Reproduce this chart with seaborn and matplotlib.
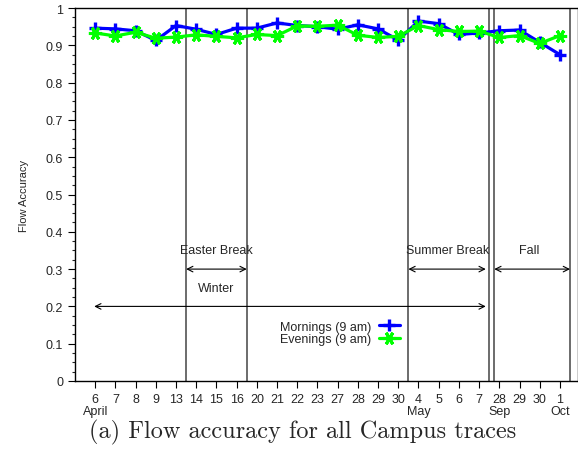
import numpy as np
import pandas as pd
import seaborn as sns
import matplotlib
matplotlib.use("Agg")
import matplotlib.pyplot as plt
from matplotlib.ticker import MultipleLocator, AutoMinorLocator, FixedLocator, FuncFormatter
from matplotlib.lines import Line2D

days = ["6", "7", "8", "9", "13", "14", "15", "16", "20", "21", "22", "23",
        "27", "28", "29", "30", "4", "5", "6", "7", "28", "29", "30", "1"]
months = {0: "April", 16: "May", 20: "Sep", 23: "Oct"}
mornings = [0.946, 0.944, 0.939, 0.913, 0.953, 0.943, 0.929, 0.946, 0.946, 0.960,
            0.953, 0.950, 0.943, 0.955, 0.944, 0.914, 0.965, 0.958, 0.929, 0.933,
            0.939, 0.941, 0.908, 0.875]
evenings = [0.933, 0.925, 0.935, 0.919, 0.922, 0.928, 0.924, 0.920, 0.929, 0.926,
            0.952, 0.951, 0.954, 0.927, 0.921, 0.924, 0.953, 0.942, 0.937, 0.938,
            0.921, 0.926, 0.905, 0.926]
series_names = ["Mornings (9 am)", "Evenings (9 am)"]
separators = [4.5, 7.5, 15.5, 19.5, 19.75, 23.5]

sns.set_style("ticks")
plt.rcParams["font.family"] = ["Liberation Sans", "DejaVu Sans"]

fig = plt.figure(figsize=(5.78, 4.52), dpi=100)
ax = fig.add_axes([75 / 578, 1 - 382 / 452, 502.5 / 578, 373 / 452])

idx = np.arange(len(days))
df = pd.DataFrame({"idx": np.concatenate([idx, idx]),
                   "acc": mornings + evenings,
                   "series": [series_names[0]] * len(idx) + [series_names[1]] * len(idx)})

for x in separators:
    ax.axvline(x, color="#444444", lw=1.1, zorder=1)

blue_kw = dict(color="#0000ff", lw=2.3, marker="+", markersize=9, mew=2.4, mec="#0000ff")
green_kw = dict(color="#00ff00", lw=2.3, marker=(6, 2, 90), markersize=9.5, mew=2.2, mec="#00ff00")
sns.lineplot(data=df[df.series == series_names[0]], x="idx", y="acc", ax=ax,
             legend=False, zorder=3, **blue_kw)
sns.lineplot(data=df[df.series == series_names[1]], x="idx", y="acc", ax=ax,
             legend=False, zorder=4, **green_kw)

ax.set_xlim(-1.0, 23.87)
ax.set_ylim(0, 1)
ax.set_xlabel("")
ax.set_ylabel("Flow Accuracy", fontsize=8, labelpad=12)
ax.xaxis.set_major_locator(FixedLocator(idx))
ax.set_xticklabels([d + ("\n" + months[i] if i in months else "") for i, d in enumerate(days)],
                   fontsize=9, linespacing=0.95)
ax.yaxis.set_major_locator(MultipleLocator(0.1))
ax.yaxis.set_minor_locator(AutoMinorLocator(4))
ax.yaxis.set_major_formatter(FuncFormatter(lambda v, p: f"{round(v, 1):g}"))
ax.tick_params(axis="both", which="major", direction="out", length=5, width=0.8,
               color="black", labelsize=9)
ax.tick_params(axis="y", which="minor", direction="out", length=2.5, width=0.8)
ax.tick_params(axis="x", pad=4)
for s in ax.spines.values():
    s.set_color("black")
    s.set_linewidth(1.0)

arrow_kw = dict(arrowstyle="<->", lw=0.8, color="black", shrinkA=0, shrinkB=0,
                mutation_scale=10)
ax.annotate("", xy=(4.5, 0.3), xytext=(7.5, 0.3), arrowprops=arrow_kw)
ax.annotate("", xy=(15.5, 0.3), xytext=(19.33, 0.3), arrowprops=arrow_kw)
ax.annotate("", xy=(19.75, 0.3), xytext=(23.5, 0.3), arrowprops=arrow_kw)
ax.annotate("", xy=(-0.05, 0.2), xytext=(19.33, 0.2), arrowprops=arrow_kw)
ax.text(6.0, 0.35, "Easter Break", ha="center", va="center", fontsize=9)
ax.text(17.45, 0.35, "Summer Break", ha="center", va="center", fontsize=9)
ax.text(21.5, 0.35, "Fall", ha="center", va="center", fontsize=9)
ax.text(6.0, 0.25, "Winter", ha="center", va="center", fontsize=9)

handles = [Line2D([], [], **blue_kw), Line2D([], [], **green_kw)]
leg = ax.legend(handles, series_names, loc="center right", frameon=False,
                bbox_to_anchor=(400 / 578, 1 - 334 / 452), bbox_transform=fig.transFigure,
                markerfirst=False, fontsize=9, borderpad=0, handletextpad=0.6,
                labelspacing=0.05, handlelength=1.7, borderaxespad=0)

fig.text(303 / 578, 1 - 432 / 452, "(a) Flow accuracy for all Campus traces",
         ha="center", va="center", fontsize=17.5, family="cmr10")

fig.savefig("out.png", dpi=100)
